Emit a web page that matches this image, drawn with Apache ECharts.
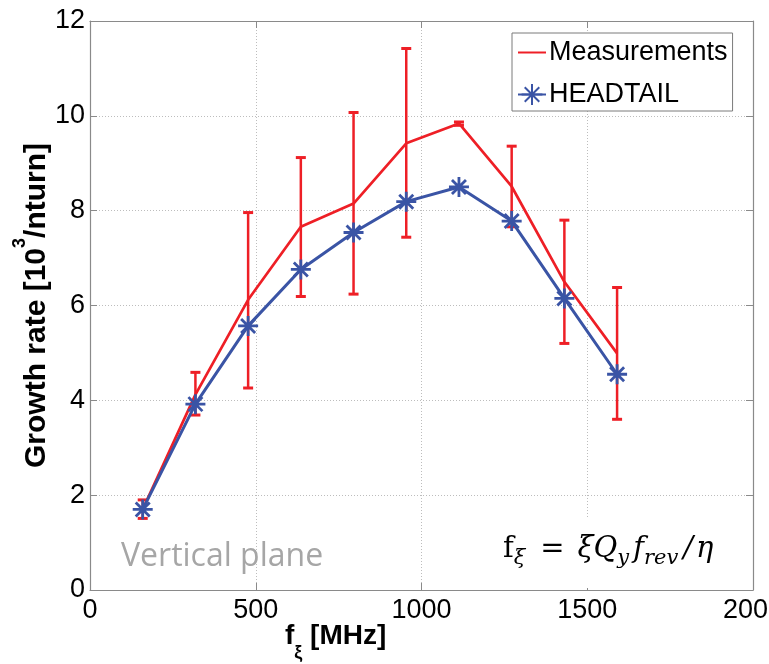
<!DOCTYPE html>
<html>
<head>
<meta charset="utf-8">
<script src="https://cdn.jsdelivr.net/npm/echarts/dist/echarts.min.js"></script>
<style>
  html, body { margin: 0; padding: 0; background: #fff; }
  #chart { width: 769px; height: 664px; }
</style>
</head>
<body>
<div id="chart"></div>
<script>
// values
const freqMHz = [159, 318, 477, 636, 795, 954, 1113, 1272, 1431, 1590];
const measured = [1.70, 4.12, 6.12, 7.66, 8.15, 9.42, 9.84, 8.51, 6.50, 4.99];
const errLow = [1.51, 3.69, 4.26, 6.19, 6.24, 7.44, 9.80, 7.66, 5.20, 3.60];
const errHigh = [1.90, 4.59, 7.96, 9.12, 10.07, 11.42, 9.87, 9.36, 7.80, 6.38];
const headtail = [1.70, 3.92, 5.57, 6.76, 7.54, 8.19, 8.50, 7.78, 6.15, 4.55];

const xTicks = { min: 0, max: 2000, interval: 500 };
const yTicks = { min: 0, max: 12, interval: 2 };

const RED = '#ee1f26';
const BLUE = '#3a54a5';
const AXIS_GRAY = '#8a8a8a';
const ASTERISK = 'path://M10,0L10,20M0,10L20,10M3,3L17,17M3,17L17,3';
const SANS = 'Liberation Sans, Arial, sans-serif';
const SERIF = 'DejaVu Serif, serif';

const chart = echarts.init(document.getElementById('chart'));

const measSeries = freqMHz.map((f, i) => [f, measured[i]]);
const headSeries = freqMHz.map((f, i) => [f, headtail[i]]);
const errSeries = freqMHz.map((f, i) => [f, errLow[i], errHigh[i]]);

function renderErrorBar(params, api) {
    const lo = api.coord([api.value(0), api.value(1)]);
    const hi = api.coord([api.value(0), api.value(2)]);
    const cap = 5;
    return {
        type: 'group',
        children: [
            { type: 'line', shape: { x1: lo[0], y1: lo[1], x2: hi[0], y2: hi[1] }, style: { stroke: RED, lineWidth: 2.5 } },
            { type: 'line', shape: { x1: lo[0] - cap, y1: lo[1], x2: lo[0] + cap, y2: lo[1] }, style: { stroke: RED, lineWidth: 3 } },
            { type: 'line', shape: { x1: hi[0] - cap, y1: hi[1], x2: hi[0] + cap, y2: hi[1] }, style: { stroke: RED, lineWidth: 3 } }
        ]
    };
}

function boxAxis(extra) {
    return Object.assign({
        type: 'value',
        axisLine: { show: true, onZero: false, lineStyle: { color: AXIS_GRAY, width: 1.2 } },
        axisTick: { show: true, inside: true, length: 7, lineStyle: { color: AXIS_GRAY } },
        axisLabel: { show: false },
        splitLine: { show: false }
    }, extra);
}

const labelFont = { color: '#000', fontSize: 27, fontFamily: SANS, formatter: v => String(v) };
const gridLine = { show: true, lineStyle: { color: '#bdbdbd', type: [1, 2], width: 1 } };

// formula token styles
const mathMain = { fontSize: 29, fill: '#000', fontFamily: SERIF, lineHeight: 34, verticalAlign: 'top' };
const mathSub = { fontSize: 21, fontStyle: 'italic', fill: '#000', fontFamily: SERIF, lineHeight: 34, verticalAlign: 'bottom' };

const option = {
    animation: false,
    backgroundColor: '#fff',
    grid: { left: 90, right: 16, top: 21, bottom: 74, outerBoundsMode: 'none', containLabel: false },
    xAxis: [
        boxAxis(Object.assign({}, xTicks, {
            position: 'bottom',
            axisLabel: Object.assign({ show: true, margin: 7 }, labelFont),
            splitLine: gridLine
        })),
        boxAxis(Object.assign({}, xTicks, { position: 'top' }))
    ],
    yAxis: [
        boxAxis(Object.assign({}, yTicks, {
            position: 'left',
            axisLabel: Object.assign({ show: true, margin: 5 }, labelFont),
            splitLine: gridLine,
            name: '{b|Growth rate [10}{s|3}{b|/nturn]}',
            nameLocation: 'middle',
            nameGap: 38,
            nameMoveOverlap: false,
            nameTextStyle: {
                rich: {
                    b: { fontSize: 30, fontWeight: 'bold', color: '#000', fontFamily: SANS, lineHeight: 41, verticalAlign: 'bottom' },
                    s: { fontSize: 18, fontWeight: 'bold', color: '#000', fontFamily: SANS, lineHeight: 41, verticalAlign: 'top' }
                }
            }
        })),
        boxAxis(Object.assign({}, yTicks, { position: 'right' }))
    ],
    legend: {
        left: 512,
        top: 33,
        orient: 'vertical',
        data: [
            { name: 'Measurements', itemStyle: { opacity: 0 } },
            { name: 'HEADTAIL' }
        ],
        itemWidth: 28,
        itemHeight: 26,
        itemGap: 15,
        padding: [6, 5, 3, 5],
        backgroundColor: '#fff',
        borderColor: '#7a7a7a',
        borderWidth: 1,
        borderRadius: 0,
        textStyle: { fontSize: 27, color: '#000', fontFamily: SANS, padding: [0, 0, 0, -2] }
    },
    graphic: [
        {
            type: 'rect', left: 490, top: 518, z: 5,
            shape: { width: 250, height: 70 },
            style: { fill: '#fff' }
        },
        {
            type: 'text', left: 121, top: 541, z: 10,
            style: { text: 'Vertical plane', fontSize: 32, fontFamily: 'Open Sans, sans-serif', fill: '#a6a6a6' }
        },
        {
            type: 'text', left: 285, top: 622, z: 10,
            style: {
                text: '{b|f}{s|ξ}{b| [MHz]}',
                rich: {
                    b: { fontSize: 28, fontWeight: 'bold', fill: '#000', fontFamily: SANS, lineHeight: 40, verticalAlign: 'top' },
                    s: { fontSize: 18, fontWeight: 'bold', fill: '#000', fontFamily: SANS, lineHeight: 40, verticalAlign: 'bottom' }
                }
            }
        },
        {
            type: 'text', left: 503, top: 535, z: 10,
            style: {
                text: '{r|f}{s|ξ}{e|=}{i|ξQ}{s|y}{f|f}{s|rev}{sl|/}{i|η}',
                rich: {
                    r: mathMain,
                    e: Object.assign({}, mathMain, { padding: [0, 13, 0, 15] }),
                    i: Object.assign({}, mathMain, { fontStyle: 'italic' }),
                    f: Object.assign({}, mathMain, { fontStyle: 'italic', padding: [0, 0, 0, 4] }),
                    sl: Object.assign({}, mathMain, { fontStyle: 'italic', padding: [0, 3, 0, 5] }),
                    s: mathSub
                }
            }
        }
    ],
    series: [
        {
            name: 'errors',
            type: 'custom',
            renderItem: renderErrorBar,
            encode: { x: 0, y: [1, 2] },
            data: errSeries,
            z: 2
        },
        {
            name: 'Measurements',
            type: 'line',
            data: measSeries,
            showSymbol: false,
            symbol: 'none',
            lineStyle: { color: RED, width: 2.7 },
            itemStyle: { color: RED },
            z: 3
        },
        {
            name: 'HEADTAIL',
            type: 'line',
            data: headSeries,
            symbol: ASTERISK,
            symbolSize: 20,
            lineStyle: { color: BLUE, width: 3 },
            itemStyle: { color: BLUE, borderColor: BLUE, borderWidth: 2.8 },
            z: 4
        }
    ]
};

chart.setOption(option);
</script>
</body>
</html>
